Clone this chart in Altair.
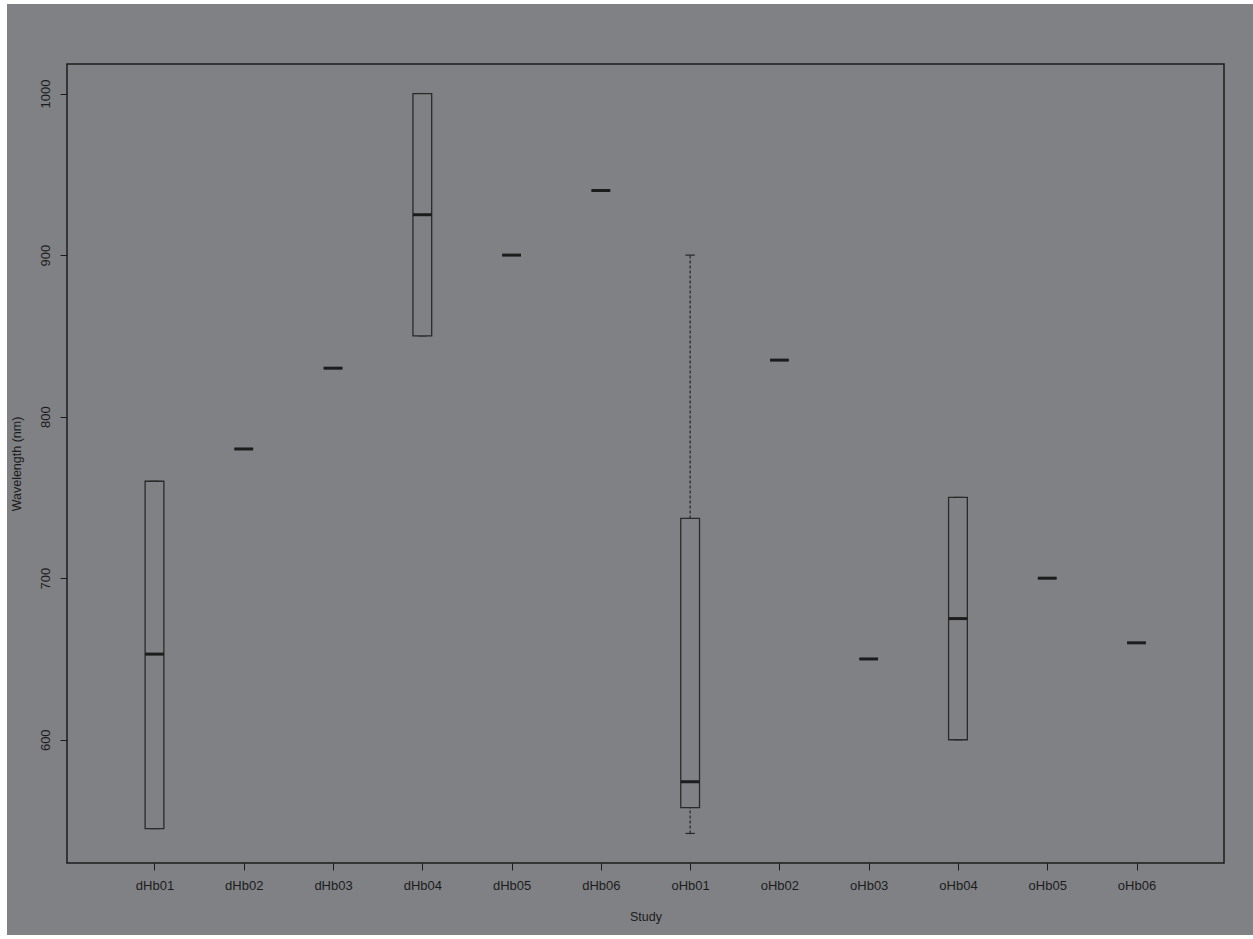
import altair as alt
import pandas as pd

# Wavelength summary per study (five-number summary, nm)
studies = ["dHb01", "dHb02", "dHb03", "dHb04", "dHb05", "dHb06",
           "oHb01", "oHb02", "oHb03", "oHb04", "oHb05", "oHb06"]
mins = [545, 780, 830, 850, 900, 940, 542, 835, 650, 600, 700, 660]
q1s = [545, 780, 830, 850, 900, 940, 558, 835, 650, 600, 700, 660]
medians = [653, 780, 830, 925, 900, 940, 574, 835, 650, 675, 700, 660]
q3s = [760, 780, 830, 1000, 900, 940, 737, 835, 650, 750, 700, 660]
maxs = [760, 780, 830, 1000, 900, 940, 900, 835, 650, 750, 700, 660]

y_ticks = [600, 700, 800, 900, 1000]

df = pd.DataFrame({
    "study": studies,
    "pos": list(range(1, len(studies) + 1)),
    "lo": mins, "q1": q1s, "med": medians, "q3": q3s, "hi": maxs,
})

BG = "#808185"
INK = "#1c1c1c"
HALF = 0.105  # half box width, in category units
W, H = 1157, 799

label_expr = "[" + ",".join(f"'{s}'" for s in studies) + "][datum.value - 1]"

x_scale = alt.Scale(domain=[0.02, 12.98], nice=False, zero=False)
y_scale = alt.Scale(domain=[523.7, 1018.3], nice=False, zero=False)

x_axis = alt.Axis(
    values=list(range(1, len(studies) + 1)), labelExpr=label_expr,
    title="Study", grid=False, domain=False, tickColor=INK, tickSize=7,
    labelColor=INK, labelFont="Liberation Sans", labelFontSize=13,
    labelPadding=9, titleFont="Liberation Sans", titleFontSize=12.5,
    titleFontWeight="normal", titleColor=INK, titleY=53,
    titleBaseline="middle", zindex=1,
)
y_axis = alt.Axis(
    values=y_ticks, format="d", title="Wavelength (nm)", grid=False,
    domain=False, tickColor=INK, tickSize=7, labelColor=INK,
    labelFont="Liberation Sans", labelFontSize=13, labelAngle=270,
    labelAlign="center", labelBaseline="middle", labelPadding=15,
    titleFont="Liberation Sans", titleFontSize=12.5, titleFontWeight="normal",
    titleColor=INK, titleAngle=270, titleX=-51, titleBaseline="middle",
    zindex=1,
)

one = alt.Chart(df).transform_filter("datum.pos == 1")

# grey page panel behind the plot (white margin on the left and bottom)
panel = one.mark_rect(fill=BG, stroke=None).encode(
    x=alt.value(-60), x2=alt.value(W + 29), y=alt.value(-60), y2=alt.value(H + 72)
)
# plot frame drawn over everything
frame = one.mark_rect(fill=None, fillOpacity=0, stroke=INK, strokeWidth=1.5).encode(
    x=alt.value(0), x2=alt.value(W), y=alt.value(0), y2=alt.value(H)
)

base = alt.Chart(df).transform_calculate(
    xl=f"datum.pos - {HALF}", xr=f"datum.pos + {HALF}",
    cl=f"datum.pos - {HALF / 2}", cr=f"datum.pos + {HALF / 2}",
)

x_pos = alt.X("pos:Q", scale=x_scale, axis=x_axis)

whisk_lo = base.mark_rule(color="#262626", strokeWidth=1.2, strokeDash=[3, 2]).encode(
    x=x_pos, y=alt.Y("lo:Q", scale=y_scale, axis=y_axis), y2="q1:Q")
whisk_hi = base.mark_rule(color="#262626", strokeWidth=1.2, strokeDash=[3, 2]).encode(
    x="pos:Q", y="q3:Q", y2="hi:Q")
cap_lo = base.mark_rule(color="#262626", strokeWidth=1.2).encode(
    x="cl:Q", x2="cr:Q", y="lo:Q")
cap_hi = base.mark_rule(color="#262626", strokeWidth=1.2).encode(
    x="cl:Q", x2="cr:Q", y="hi:Q")
box = base.mark_rect(fill=BG, stroke="#2a2a2a", strokeWidth=1.3).encode(
    x="xl:Q", x2="xr:Q", y="q1:Q", y2="q3:Q")
median = base.mark_rule(color=INK, strokeWidth=3).encode(
    x="xl:Q", x2="xr:Q", y="med:Q")

chart = alt.layer(panel, whisk_lo, whisk_hi, cap_lo, cap_hi, box, median, frame).properties(
    width=W, height=H,
    autosize=alt.AutoSizeParams(type="none"),
    padding={"left": 67, "top": 64, "right": 29, "bottom": 76},
    background="white",
).configure_view(
    strokeWidth=0,
)

chart.save("out.html", embed_options={"renderer": "svg", "actions": False})
